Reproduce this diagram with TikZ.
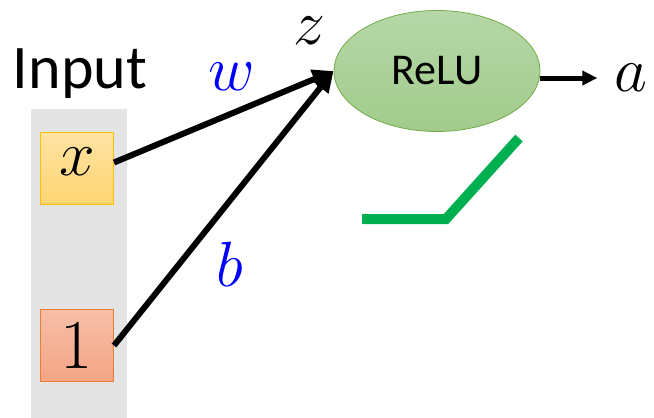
\RequirePackage{fix-cm}
\documentclass[tikz,border=0pt]{standalone}
\usepackage{fontspec}
\setmainfont{Carlito}
\usetikzlibrary{arrows.meta, positioning, shapes.geometric}
\definecolor{colgray}{HTML}{E4E4E4}
\definecolor{xtop}{HTML}{FFE3A3}
\definecolor{xbot}{HTML}{FFD573}
\definecolor{xline}{HTML}{FFC000}
\definecolor{onetop}{HTML}{F7BEA8}
\definecolor{onebot}{HTML}{F4A584}
\definecolor{oneline}{HTML}{ED7D31}
\definecolor{relutop}{HTML}{B6D7A8}
\definecolor{relubot}{HTML}{A1CB8B}
\definecolor{reluline}{HTML}{70AD47}
\definecolor{curvegreen}{HTML}{00B050}
\tikzset{%
	column/.style={fill=colgray, minimum width=96pt, minimum height=309pt, inner sep=0pt},
	inp/.style={draw, rectangle, minimum width=73pt, minimum height=72pt, inner sep=0pt, line width=1pt,%
		font=\fontsize{64}{64}\selectfont},
	xin/.style={inp, draw=xline, top color=xtop, bottom color=xbot, text height=42pt, text depth=29pt},
	onein/.style={inp, draw=oneline, top color=onetop, bottom color=onebot, text height=59pt, text depth=13pt,%
		font=\fontsize{70}{70}\selectfont},
	act/.style={draw=reluline, ellipse, line width=0.8pt, minimum width=206pt, minimum height=121pt,%
		top color=relutop, bottom color=relubot, font=\fontsize{44}{44}\selectfont},
	mathlbl/.style={inner sep=0pt, font=\fontsize{64}{64}\selectfont},
	weight/.style={mathlbl, text=blue},
	sel/.style={-{Triangle[length=21pt, width=19pt]}, line width=6pt},
	outarr/.style={-{Triangle[length=15pt, width=14pt]}, line width=5pt, shorten >=17pt},
	relucurve/.style={draw=curvegreen, line width=10pt}
}
\begin{document}
\begin{tikzpicture}[x=1pt, y=-1pt]
	\useasboundingbox (0,0) rectangle (654,418);
	\node[column] (col) at (79,263.5) {};
	\node[font=\fontsize{62}{62}\selectfont, anchor=base] (input) at (80,88) {Input};
	\node[xin] (x) at (77,168.5) {$x$};
	\node[onein] (one) [below=104pt of x] {$1$};
	\node[act] (relu) at (437,71) {ReLU};
	\node[mathlbl] (z) at (309,31) {$z$};
	\node[mathlbl] (a) at (631,78) {$a$};
	\node[weight] (w) at (232,77) {$w$};
	\node[weight] (b) at (230,264) {$b$};
	\draw [sel] ([yshift=6pt]x.east) to (relu.west);
	\draw [sel] (one.east) to (relu.west);
	\draw [outarr] (relu.east |- a) to (a);

	% relu shape
	\draw [relucurve] (362,219) -- (446,219) -- (519,138);
\end{tikzpicture}
\end{document}
